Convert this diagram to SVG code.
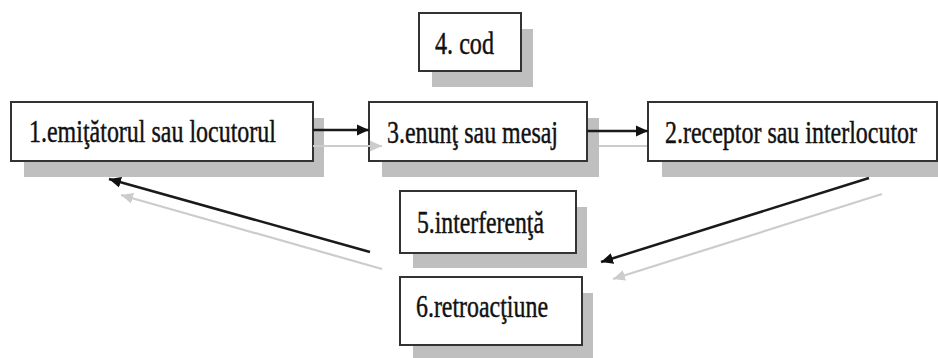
<svg xmlns="http://www.w3.org/2000/svg" width="938" height="358" viewBox="0 0 938 358">
<style>
.shadow{fill:#bfbfbf;}
.box{fill:#ffffff;stroke:#333333;stroke-width:2;}
.lbl{font-family:"Liberation Serif","Times New Roman",serif;font-size:32px;fill:#111111;stroke:#111111;stroke-width:0.45;}
.lbs{font-size:31px;}
.blk{stroke:#1a1a1a;stroke-width:2.5;fill:none;}
.gry{stroke:#cccccc;stroke-width:2.2;fill:none;}
</style>
<defs>
<marker id="ab" markerUnits="userSpaceOnUse" markerWidth="13" markerHeight="12" refX="12" refY="6" orient="auto">
<path d="M0,0.5 L12,6 L0,11.5 z" fill="#111111"/>
</marker>
<marker id="ag" markerUnits="userSpaceOnUse" markerWidth="13" markerHeight="12" refX="12" refY="6" orient="auto">
<path d="M0,0.5 L12,6 L0,11.5 z" fill="#cccccc"/>
</marker>
</defs>
<rect width="938" height="358" fill="#ffffff"/>

<g id="node4">
<rect class="shadow" x="432" y="29" width="101" height="58"/>
<rect class="box" x="419" y="13" width="102" height="58"/>
<text class="lbl lbs" transform="translate(435,54) scale(0.75,1)" textLength="78.7" lengthAdjust="spacingAndGlyphs">4. cod</text>
</g>

<g id="node1">
<rect class="shadow" x="24" y="118" width="300" height="59"/>
<rect class="box" x="11" y="102" width="302" height="59"/>
<text class="lbl" transform="translate(29,142) scale(0.75,1)" textLength="329.3" lengthAdjust="spacingAndGlyphs">1.emiţătorul sau locutorul</text>
</g>

<g id="node3">
<rect class="shadow" x="382" y="118" width="217" height="59"/>
<rect class="box" x="369" y="102" width="218" height="59"/>
<text class="lbl" transform="translate(387,143) scale(0.75,1)" textLength="228" lengthAdjust="spacingAndGlyphs">3.enunţ sau mesaj</text>
</g>

<g id="node2">
<rect class="shadow" x="662" y="118" width="276" height="59"/>
<rect class="box" x="648" y="102" width="289" height="59"/>
<text class="lbl" transform="translate(665,143) scale(0.75,1)" textLength="336" lengthAdjust="spacingAndGlyphs">2.receptor sau interlocutor</text>
</g>

<g id="node5">
<rect class="shadow" x="413" y="207" width="174" height="61"/>
<rect class="box" x="400" y="191" width="176" height="62"/>
<text class="lbl lbs" transform="translate(417,233) scale(0.75,1)" textLength="169.3" lengthAdjust="spacingAndGlyphs">5.interferenţă</text>
</g>

<g id="node6">
<rect class="shadow" x="413" y="293" width="180" height="65"/>
<rect class="box" x="400" y="277" width="182" height="68"/>
<text class="lbl lbs" transform="translate(416,317) scale(0.75,1)" textLength="176" lengthAdjust="spacingAndGlyphs">6.retroacţiune</text>
</g>

<g id="connectors">
<line class="gry" x1="313" y1="146" x2="382" y2="146" marker-end="url(#ag)"/>
<line class="gry" x1="599" y1="146" x2="647" y2="146"/>
<line class="blk" x1="313" y1="130" x2="369" y2="130" marker-end="url(#ab)"/>
<line class="blk" x1="587" y1="131" x2="648" y2="131" marker-end="url(#ab)"/>
<line class="gry" x1="382" y1="269" x2="121" y2="195" marker-end="url(#ag)"/>
<line class="blk" x1="370" y1="252" x2="109" y2="179" marker-end="url(#ab)"/>
<line class="gry" x1="882" y1="194" x2="613" y2="279" marker-end="url(#ag)"/>
<line class="blk" x1="869" y1="178" x2="601" y2="262" marker-end="url(#ab)"/>
</g>
</svg>
